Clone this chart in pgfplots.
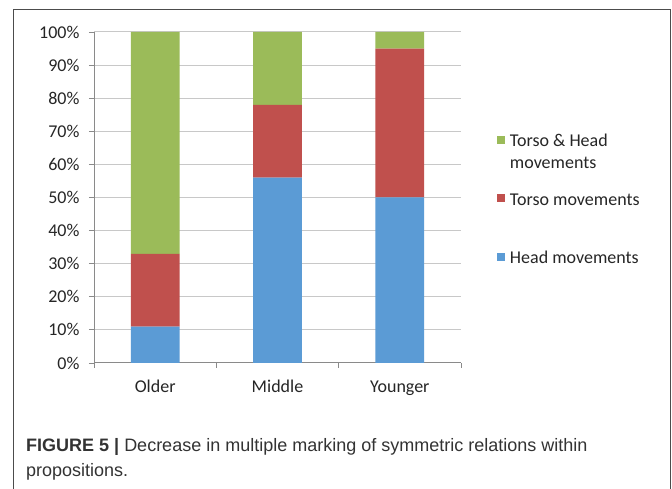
\documentclass[border=0pt]{standalone}
\usepackage{fontspec}
\setmainfont{Carlito}
\newfontfamily\capfont{Liberation Sans}
\usepackage{pgfplots}
\pgfplotsset{compat=1.18}
\definecolor{hblue}{HTML}{5B9BD5}
\definecolor{tred}{HTML}{C0504D}
\definecolor{thgreen}{HTML}{9BBB59}
\definecolor{gridc}{HTML}{C8C8C8}
\definecolor{axc}{HTML}{8A8A8A}
\definecolor{capc}{HTML}{333333}
\pgfplotsset{sqlegend/.style={legend image code/.code={\fill[##1] (0pt,-4pt) rectangle (8pt,4pt);}}}
\begin{document}
\begin{tikzpicture}[x=1pt,y=1pt]
\fill[white] (0,0) rectangle (672,489);
\path[use as bounding box] (0,0) rectangle (672,489);
\draw[color=black!70, line width=1pt] (13,-5) rectangle (670,479);
\begin{axis}[
  at={(94pt,126pt)}, anchor=south west,
  scale only axis, width=367pt, height=331pt,
  ybar stacked, bar width=48.7pt,
  xmin=-0.5, xmax=2.5, ymin=0, ymax=100,
  axis x line*=bottom, axis y line*=left,
  axis line style={-, draw=axc, line width=1pt},
  xtick={-0.5,0.5,1.5,2.5}, xticklabels={},
  extra x ticks={0,1,2},
  extra x tick labels={Older,Middle,Younger},
  extra x tick style={major tick length=0pt, grid=none},
  ytick={0,10,...,100},
  yticklabels={0\%,10\%,20\%,30\%,40\%,50\%,60\%,70\%,80\%,90\%,100\%},
  tick align=outside, major tick length=5pt,
  tick style={draw=axc, line width=0.8pt},
  ymajorgrids, grid style={draw=gridc, line width=1pt},
  tick label style={font=\fontsize{18}{22}\selectfont, text=black!85},
  xticklabel style={anchor=base, yshift=-30pt},
  yticklabel style={xshift=-6pt},
  legend style={at={(1.098,0.686)}, anchor=north west, draw=none, fill=none,
    inner sep=0pt, outer sep=0pt, row sep=50.5pt, column sep=5pt,
    font=\fontsize{18}{22}\selectfont,
    nodes={inner sep=0pt, outer sep=0pt, text=black!85},
    cells={anchor=west}},
  reverse legend,
]
\addplot[fill=hblue, draw=none, sqlegend]
  coordinates {(0,11) (1,56) (2,50)};
\addlegendentry{\raisebox{-7.5pt}[0pt][0pt]{Head movements}}
\addplot[fill=tred, draw=none, sqlegend]
  coordinates {(0,22) (1,22) (2,45)};
\addlegendentry{\raisebox{-7.5pt}[0pt][0pt]{Torso movements}}
\addplot[fill=thgreen, draw=none, sqlegend]
  coordinates {(0,67) (1,22) (2,5)};
\addlegendentry{\raisebox{-7pt}[0pt][0pt]{\begin{tabular}[t]{@{}l@{}}Torso \& Head\\movements\end{tabular}}}
\end{axis}
\node[anchor=base west, inner sep=0pt, text=capc] at (26,37.3)
  {\capfont\fontsize{18}{25}\selectfont\textbf{FIGURE 5 |} Decrease in multiple marking of symmetric relations within};
\node[anchor=base west, inner sep=0pt, text=capc] at (26,12.3)
  {\capfont\fontsize{18}{25}\selectfont propositions.};
\end{tikzpicture}
\end{document}
